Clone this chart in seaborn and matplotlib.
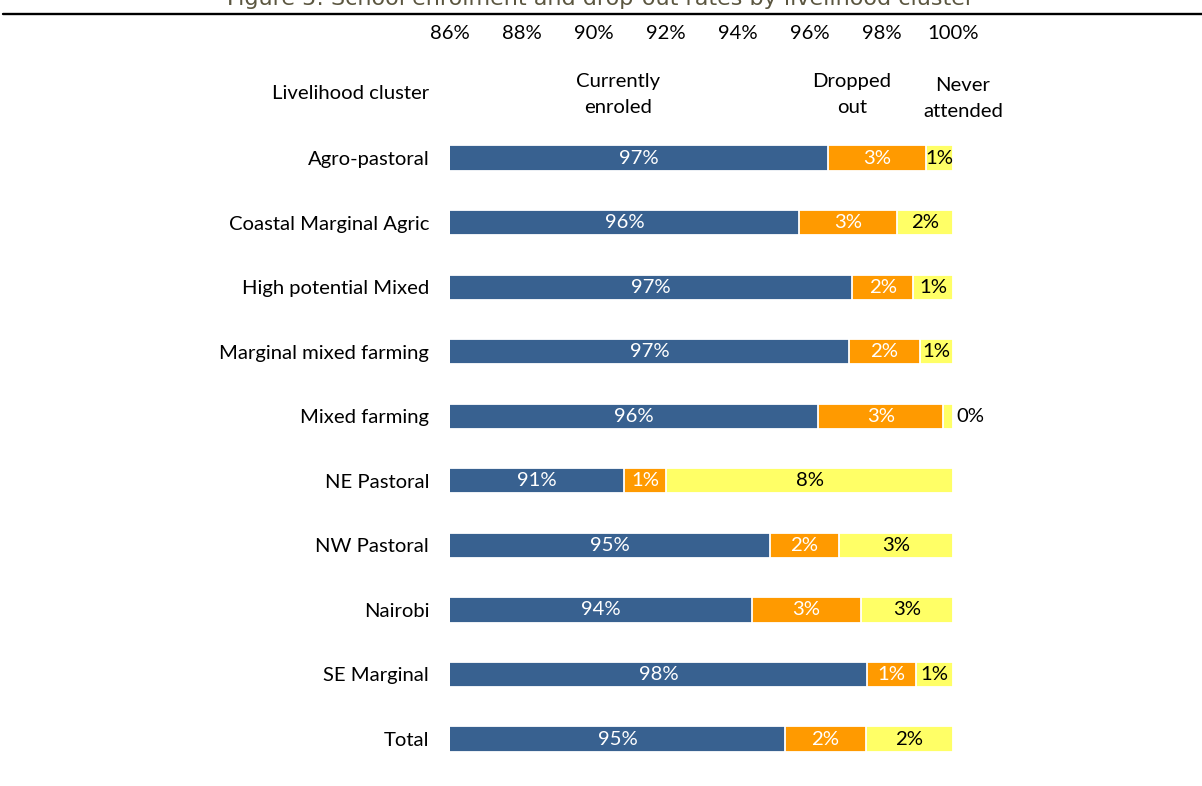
import matplotlib
matplotlib.use("Agg")
import matplotlib.pyplot as plt
import seaborn as sns
import numpy as np
import pandas as pd

# Livelihood clusters and the share of children in each schooling status (%)
clusters = ["Agro-pastoral", "Coastal Marginal Agric", "High potential Mixed",
            "Marginal mixed farming", "Mixed farming", "NE Pastoral",
            "NW Pastoral", "Nairobi", "SE Marginal", "Total"]
enroled = [96.52, 95.72, 97.19, 97.09, 96.25, 90.83, 94.91, 94.40, 97.59, 95.33]
dropped = [2.73, 2.72, 1.70, 1.99, 3.46, 1.19, 1.90, 3.04, 1.37, 2.23]
never = [0.75, 1.56, 1.11, 0.92, 0.29, 7.98, 3.19, 2.56, 1.04, 2.44]
ticks = [86, 88, 90, 92, 94, 96, 98, 100]

df = pd.DataFrame({"cluster": clusters, "enroled": enroled,
                   "dropped": dropped, "never": never})
df["c1"] = df["enroled"]
df["c2"] = df["c1"] + df["dropped"]
df["c3"] = df["c2"] + df["never"]

sns.set_theme(style="white")
plt.rcParams["font.family"] = ["Lato", "DejaVu Sans"]
plt.rcParams["text.color"] = "black"

fig = plt.figure(figsize=(12.02, 7.86), dpi=100)
ax = fig.add_axes([0.3744, 0.0187, 0.4187, 0.9034])

blue, orange, yellow = "#386190", "#FF9A00", "#FFFF66"
# stacked bars: draw cumulative totals back to front
for col, colr in [("c3", yellow), ("c2", orange), ("c1", blue)]:
    sns.barplot(data=df, x=col, y="cluster", orient="h", color=colr,
                width=0.39, edgecolor="white", linewidth=1.3, ax=ax,
                saturation=1)

fs = 14.6
xmin, xmax = 86, 100
ax.set_xlim(xmin, xmax)
ax.set_ylim(len(clusters) - 0.5, -1.5)
ax.xaxis.tick_top()
ax.set_xticks(ticks)
ax.set_xticklabels([f"{t}%" for t in ticks])
ax.tick_params(axis="x", length=0, pad=14, labelsize=fs, colors="black")
ax.tick_params(axis="y", length=0, pad=15, labelsize=fs, colors="black")
ax.set_xlabel("")
ax.set_ylabel("")
for s in ax.spines.values():
    s.set_visible(False)

# segment value labels
for i, r in df.iterrows():
    ax.text((xmin + r.c1) / 2, i, f"{r.enroled:.0f}%", ha="center",
            va="center", color="white", fontsize=fs)
    ax.text((r.c1 + r.c2) / 2, i, f"{r.dropped:.0f}%", ha="center",
            va="center", color="white", fontsize=fs)
    if r.never < 0.5:
        ax.text(r.c3 + 0.08, i, f"{r.never:.0f}%", ha="left",
                va="center", color="black", fontsize=fs)
    else:
        ax.text((r.c2 + r.c3) / 2, i, f"{r.never:.0f}%", ha="center",
                va="center", color="black", fontsize=fs)

# header row
ax.text(-0.0417, -1, "Livelihood cluster", transform=ax.get_yaxis_transform(),
        ha="right", va="center", fontsize=fs, color="black")
ax.text(90.67, -0.98, "Currently\nenroled", ha="center", va="center",
        fontsize=fs, linespacing=1.65, color="black")
ax.text(97.18, -0.98, "Dropped\nout", ha="center", va="center",
        fontsize=fs, linespacing=1.65, color="black")
ax.text(100.27, -0.92, "Never\nattended", ha="center", va="center",
        fontsize=fs, linespacing=1.65, color="black")

# title and rule
fig.text(0.5, 1.0 + 1 / 786, "Figure 5: School enrolment and drop-out rates by livelihood cluster",
         ha="center", va="center", color="#5B5640", fontsize=16,
         family=["DejaVu Sans"])
fig.add_artist(plt.Line2D([3 / 1202, 1.0], [1 - 13.8 / 786] * 2,
                          color="black", linewidth=1.7,
                          transform=fig.transFigure))

fig.savefig("out.png", dpi=100)
